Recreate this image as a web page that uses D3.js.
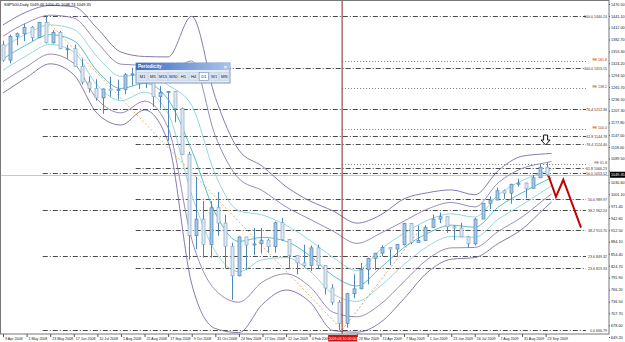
<!DOCTYPE html>
<html>
<head>
<meta charset="utf-8">
<script src="https://cdn.jsdelivr.net/npm/d3@7"></script>
<style>
  body { margin: 0; background: #fff; }
  svg { display: block; font-family: "Liberation Sans", Arial, sans-serif; }
</style>
</head>
<body>
<div class="container"></div>
<script>
// weekly bars (Apr 2008 - Sep 2009)
var weekOpen = [1370,1332,1390,1397, 1413,1388,1425,1375, 1400,1360,1360,1317,1278, 1262,1239,1261,1257,
  1260,1296,1298,1292, 1283,1242,1252,1255,1213, 1099,899,940,877, 968,930,873,800, 896,876,879,888,872,
  931,890,850,832, 826,869,826,770, 735,683,756,768,816, 843,856,870,866, 877,929,882,887,
  919,940,946,921,918, 896,879,940,979, 987,1010,1004,1026,1029, 1016,1042,1068];
var weekHigh = [1380,1395,1400,1422, 1416,1426,1440,1406, 1404,1370,1370,1336,1292, 1285,1262,1291,1284,
  1300,1313,1300,1300, 1303,1268,1256,1256,1215, 1106,1044,985,984, 1007,951,882,897, 896,918,918,892,934,
  943,891,850,877, 875,877,826,779, 740,758,804,832,845, 856,875,868,878, 930,930,924,925,
  951,956,946,925,931, 898,943,980,996, 1018,1013,1027,1040,1030, 1049,1074,1080];
var weekLow = [1328,1324,1369,1379, 1379,1386,1373,1373, 1359,1335,1316,1272,1252, 1232,1200,1242,1235,
  1248,1269,1261,1263, 1217,1213,1133,1179,1098, 840,866,845,845, 899,818,741,799, 815,851,855,857,857,
  886,818,804,821, 812,818,754,729, 666,672,745,768,779, 814,848,826,848, 875,878,882,887,
  919,930,906,888,896, 869,875,940,965, 987,990,978,1020,991, 1016,1042,1045];
var weekClose = [1332,1390,1397,1413, 1388,1425,1375,1400, 1360,1360,1317,1278,1262, 1239,1261,1257,1260,
  1296,1298,1292,1283, 1242,1252,1255,1213,1099, 899,940,877,968, 930,873,800,896, 876,879,888,872,931,
  890,850,832,826, 869,826,770,735, 683,756,768,816,843, 856,870,866,877, 929,882,887,919,
  940,946,921,918,896, 879,940,979,987, 1010,1004,1026,1029,1016, 1042,1068,1049.35];

// band lines, sampled every 16 daily bars
var bandIdx = [0,16,32,48,64,80,96,112,128,144,160,176,192,208,224,240,256,272,288,304,320,336,352,368,372];
var bandUp3 = [1419,1451,1467,1464,1410,1352,1341,1340,1440,1240,1110,1070,1020,985,960,930,950,990,1005,1012,1000,1060,1095,1101,1102];
var bandUp2 = [1391,1424,1443,1436,1375,1322,1319,1305,1330,1145,1040,1010,970,940,910,880,905,935,965,981,970,1030,1065,1079,1082];
var bandUp1 = [1363,1397,1419,1408,1340,1292,1297,1270,1220,1050,960,950,925,888,845,813,865,905,937,953,945,1000,1035,1057,1062];
var bandMid = [1335,1370,1395,1380,1305,1262,1275,1235,1110,955,885,895,885,850,800,775,820,870,905,925,920,970,1005,1035,1042];
var bandLo1 = [1307,1343,1371,1352,1270,1232,1253,1200,1000,860,810,840,845,812,755,737,775,828,873,897,895,940,975,1013,1022];
var bandLo2 = [1279,1316,1347,1324,1235,1202,1231,1165,890,765,735,785,805,774,710,699,730,786,841,869,870,910,945,991,1002];
var bandLo3 = [1251,1289,1323,1296,1200,1172,1209,1130,780,670,660,730,765,736,665,661,685,744,809,841,845,880,915,969,982];

// fibonacci retracement levels (start = bar of the swing high)
var retrLevels = ['100.0','100.0','76.4','61.8','76.4','61.8','50.0','50.0','38.2','38.2','23.6','23.6','0.0'];
var retrPrices = [1440.24,1313.15,1212.36,1144.78,1124.40,1066.23,1053.52,989.97,962.24,913.70,849.32,819.33,666.79];
var retrStart = [27,90,27,27,90,90,27,90,27,90,27,90,27];

// fibonacci expansion levels
var feLevels = ['161.8','138.2','100.0','61.8'];
var fePrices = [1329.5,1262.5,1161.1,1077.1];
var feStart = 230;

// drawn projection and trend lines
var projIdx = [370,375,380,392];
var projPrice = [1047,995,1037,919];
var trendAIdx = [27,230], trendAPrice = [1440.24,666.79];
var trendBIdx = [230,283], trendBPrice = [666.79,915];

var priceTicks = [1470.50,1441.10,1412.00,1382.70,1353.30,1324.20,1294.50,1265.70,1236.50,1207.30,1177.80,
  1147.00,1118.00,1089.50,1059.40,1030.60,1001.10,971.40,942.60,912.50,884.10,854.40,824.70,795.90,
  766.20,736.50,707.70,678.00,649.20];
// the 27 Feb 2009 tick sits under the cursor label
var dateIdx = [0,16,32,48,64,80,96,112,128,144,160,176,192,208,240,256,272,288,304,320,336,352,368];
var dateLabels = ['9 Apr 2008','1 May 2008','23 May 2008','17 Jun 2008','10 Jul 2008','1 Aug 2008',
  '25 Aug 2008','17 Sep 2008','9 Oct 2008','31 Oct 2008','24 Nov 2008','17 Dec 2008','12 Jan 2009',
  '4 Feb 2009','23 Mar 2009','15 Apr 2009','7 May 2009','1 Jun 2009','23 Jun 2009',
  '16 Jul 2009','7 Aug 2009','31 Aug 2009','23 Sep 2009'];

var lastPrice = 1049.35;
var cursorIdx = 230;
var cursorLabel = '2009.03.10 00:00';
var arrowIdx = 368, arrowPrice = 1135;

var w = 625, h = 342;
var plotR = 609, plotB = 334;
var daysPerWeek = 369 / 76;

var svg = d3.select('.container').append('svg')
  .attr('width', w)
  .attr('height', h);

var xScale = d3.scaleLinear().domain([0, 411]).range([3, plotR]);
var yScale = d3.scaleLinear().domain([649.2, 1470.5]).range([337, 4]);

svg.append('clipPath').attr('id', 'plot')
  .append('rect').attr('x', 0).attr('y', 0).attr('width', plotR).attr('height', plotB);

var plot = svg.append('g').attr('clip-path', 'url(#plot)');

/* current price line */
plot.append('line')
  .attr('x1', 0).attr('x2', plotR)
  .attr('y1', Math.round(yScale(lastPrice)) + 0.5).attr('y2', Math.round(yScale(lastPrice)) + 0.5)
  .attr('stroke', '#c8c8c8').attr('stroke-width', 1);

/* fibo retracement */
retrPrices.forEach(function(p, i) {
  var y = Math.round(yScale(p)) + 0.5;
  plot.append('line')
    .attr('x1', xScale(retrStart[i])).attr('x2', 586)
    .attr('y1', y).attr('y2', y)
    .attr('stroke', '#4a4a4a').attr('stroke-width', 1)
    .attr('stroke-dasharray', '5,2,1,2');
  svg.append('text')
    .attr('x', 607).attr('y', y + 1.3)
    .attr('text-anchor', 'end')
    .attr('font-size', '3.6px').attr('fill', '#333')
    .text(retrLevels[i] + ' ' + p.toFixed(2));
});

/* fibo expansion */
fePrices.forEach(function(p, i) {
  var y = Math.round(yScale(p)) + 0.5;
  plot.append('line')
    .attr('x1', xScale(feStart)).attr('x2', 586)
    .attr('y1', y).attr('y2', y)
    .attr('stroke', '#7a7a7a').attr('stroke-width', 1)
    .attr('stroke-dasharray', '1,2');
  svg.append('text')
    .attr('x', 607).attr('y', y - 1)
    .attr('text-anchor', 'end')
    .attr('font-size', '3.6px').attr('fill', '#a03030')
    .text('FE ' + feLevels[i]);
});

/* trend lines */
var trendLine = d3.line()
  .x(function(d) { return xScale(d[0]); })
  .y(function(d) { return yScale(d[1]); });

plot.append('path')
  .attr('d', trendLine(d3.zip(trendAIdx, trendAPrice)))
  .attr('fill', 'none').attr('stroke', '#f2b25a').attr('stroke-width', 1)
  .attr('stroke-dasharray', '2,2');
plot.append('path')
  .attr('d', trendLine(d3.zip(trendBIdx, trendBPrice)))
  .attr('fill', 'none').attr('stroke', '#e39a80').attr('stroke-width', 1)
  .attr('stroke-dasharray', '2,2');

/* bands */
var bandLine = d3.line()
  .x(function(d) { return xScale(d[0]); })
  .y(function(d) { return yScale(d[1]); })
  .curve(d3.curveMonotoneX);

var bands = [
  [bandUp3, '#7b6aa3'], [bandUp2, '#8c7fb0'], [bandUp1, '#86d3da'],
  [bandMid, '#46b8c2'], [bandLo1, '#86d3da'], [bandLo2, '#8c7fb0'], [bandLo3, '#7b6aa3']
];
bands.forEach(function(b) {
  plot.append('path')
    .attr('d', bandLine(d3.zip(bandIdx, b[0])))
    .attr('fill', 'none')
    .attr('stroke', b[1])
    .attr('stroke-width', 0.9);
});

/* candles */
var candles = plot.selectAll('g.candle')
  .data(weekOpen)
  .enter()
  .append('g');

candles.append('line')
  .attr('x1', function(d, i) { return Math.round(xScale(i * daysPerWeek)) + 0.5; })
  .attr('x2', function(d, i) { return Math.round(xScale(i * daysPerWeek)) + 0.5; })
  .attr('y1', function(d, i) { return yScale(weekHigh[i]); })
  .attr('y2', function(d, i) { return yScale(weekLow[i]); })
  .attr('stroke', '#4d86b8');

candles.append('rect')
  .attr('x', function(d, i) { return Math.round(xScale(i * daysPerWeek)) - 1; })
  .attr('width', 3)
  .attr('y', function(d, i) { return yScale(Math.max(d, weekClose[i])); })
  .attr('height', function(d, i) { return Math.max(1, Math.abs(yScale(d) - yScale(weekClose[i]))); })
  .attr('fill', function(d, i) { return weekClose[i] >= d ? '#a6c8e4' : '#dfe8f0'; })
  .attr('stroke', function(d, i) { return weekClose[i] >= d ? '#4d86b8' : '#86a7c6'; })
  .attr('stroke-width', 0.7);

/* projection zigzag */
plot.append('path')
  .attr('d', trendLine(d3.zip(projIdx, projPrice)))
  .attr('fill', 'none').attr('stroke', '#c40000').attr('stroke-width', 2);

/* down arrow */
var ax = xScale(arrowIdx), ay = yScale(arrowPrice);
plot.append('path')
  .attr('d', 'M' + (ax - 2) + ',' + (ay - 5) + 'h4v5h2.5l-4.5,5l-4.5,-5h2.5z')
  .attr('fill', '#fff').attr('stroke', '#111').attr('stroke-width', 1);

/* cursor line */
plot.append('line')
  .attr('x1', xScale(cursorIdx)).attr('x2', xScale(cursorIdx))
  .attr('y1', 0).attr('y2', plotB)
  .attr('stroke', '#8b2424').attr('stroke-width', 1);

/* frame */
svg.append('rect')
  .attr('x', 0.5).attr('y', 0.5)
  .attr('width', plotR - 0.5).attr('height', plotB - 0.5)
  .attr('fill', 'none').attr('stroke', '#777');

/* axes */
var yAxis = d3.axisRight(yScale)
  .tickValues(priceTicks)
  .tickSize(1)
  .tickSizeOuter(0)
  .tickFormat(d3.format('.2f'));

var gy = svg.append('g')
  .attr('transform', 'translate(' + plotR + ',0)')
  .call(yAxis);
gy.select('.domain').remove();
gy.selectAll('text').attr('x', 2).style('font-size', '3.8px').attr('fill', '#222');
gy.selectAll('line').attr('stroke', '#555');
// the price box covers the tick label right next to it
gy.selectAll('.tick').filter(function(d) { return Math.abs(yScale(d) - yScale(lastPrice)) < 5; })
  .select('text').remove();

var xAxis = d3.axisBottom(xScale)
  .tickValues(dateIdx)
  .tickSize(3)
  .tickSizeOuter(0)
  .tickFormat(function(d, i) { return dateLabels[i]; });

var gx = svg.append('g')
  .attr('transform', 'translate(0,' + plotB + ')')
  .call(xAxis);
gx.select('.domain').remove();
gx.selectAll('text')
  .attr('text-anchor', 'start')
  .attr('x', 1.5).attr('y', 3.5)
  .style('font-size', '3.6px').attr('fill', '#222');
gx.selectAll('line').attr('stroke', '#555');

/* price label */
svg.append('rect')
  .attr('x', plotR + 1).attr('y', yScale(lastPrice) - 3)
  .attr('width', 15).attr('height', 6)
  .attr('fill', '#000');
svg.append('text')
  .attr('x', plotR + 2).attr('y', yScale(lastPrice) + 1.4)
  .attr('font-size', '3.8px').attr('fill', '#fff')
  .text(lastPrice.toFixed(2));

/* cursor date label */
svg.append('rect')
  .attr('x', xScale(cursorIdx) - 14).attr('y', plotB + 1)
  .attr('width', 29).attr('height', 6.5)
  .attr('fill', '#d21010');
svg.append('text')
  .attr('x', xScale(cursorIdx) + 0.5).attr('y', plotB + 5.8)
  .attr('text-anchor', 'middle')
  .attr('font-size', '3.6px').attr('fill', '#fff')
  .text(cursorLabel);

/* title */
svg.append('text')
  .attr('x', 4).attr('y', 6)
  .attr('font-size', '4px').attr('fill', '#000')
  .text('SSP500,Daily  1049.46 1050.45 1048.74 1049.35');

/* periodicity toolbar */
var pw = svg.append('g').attr('transform', 'translate(136,63)');
var grad = svg.append('defs').append('linearGradient').attr('id', 'tbar');
grad.append('stop').attr('offset', '0%').attr('stop-color', '#3f6fc0');
grad.append('stop').attr('offset', '100%').attr('stop-color', '#a9c3ec');
pw.append('rect').attr('width', 94).attr('height', 20)
  .attr('fill', '#e6edf7').attr('stroke', '#7c95c0');
pw.append('rect').attr('width', 94).attr('height', 7).attr('fill', 'url(#tbar)');
pw.append('text').attr('x', 2).attr('y', 5.3)
  .attr('font-size', '4.6px').attr('font-weight', 'bold').attr('fill', '#fff')
  .text('Periodicity');
pw.append('text').attr('x', 91).attr('y', 5.5).attr('text-anchor', 'end')
  .attr('font-size', '5.5px').attr('font-weight', 'bold').attr('fill', '#fff')
  .text('×');
var periods = ['M1','M5','M15','M30','H1','H4','D1','W1','MN'];
periods.forEach(function(p, i) {
  var bx = 2 + i * 10.2;
  pw.append('rect').attr('x', bx).attr('y', 9.5).attr('width', 9.4).attr('height', 8)
    .attr('fill', p === 'D1' ? '#ffffff' : '#dbe4f1')
    .attr('stroke', p === 'D1' ? '#6f86b0' : '#c2cfe3').attr('stroke-width', 0.6);
  pw.append('text').attr('x', bx + 4.7).attr('y', 15.3).attr('text-anchor', 'middle')
    .attr('font-size', '4.2px').attr('fill', '#223').text(p);
});
</script>
</body>
</html>
